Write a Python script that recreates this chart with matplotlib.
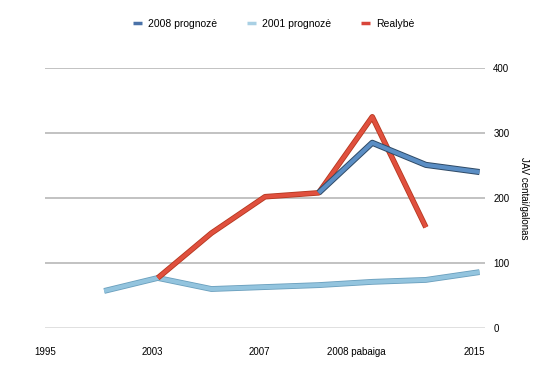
import matplotlib.pyplot as plt
import matplotlib.patheffects as pe
from matplotlib.lines import Line2D

plt.rcParams['font.family'] = ['Liberation Sans', 'DejaVu Sans']

# duomenys (taskai 0..7)
pos_2001 = [0, 1, 2, 3, 4, 5, 6, 7]
prog_2001 = [57, 77, 60, 63, 66, 71, 74, 86]

pos_real = [1, 2, 3, 4, 5, 6]
realybe = [77, 146, 202, 208, 325, 155]

pos_2008 = [4, 5, 6, 7]
prog_2008 = [208, 285, 251, 240]

x_labels = ['1995', '2003', '2007', '2008 pabaiga', '2015']
x_label_pos = [-1.1, 0.9, 2.9, 4.7, 6.9]
y_ticks = [0, 100, 200, 300, 400]

fig = plt.figure(figsize=(5.51, 3.74), dpi=100)
ax = fig.add_axes([0.082, 0.123, 0.798, 0.695])

for v in y_ticks:
    ax.axhline(v, color='#bdbdbd' if v else '#dddddd', lw=1.3, zorder=0)

ax.plot(pos_2001, prog_2001, color='#93c4de', lw=3.0, solid_capstyle='butt',
        path_effects=[pe.Stroke(linewidth=4.2, foreground='#6a9fbd'), pe.Normal()], zorder=2)
ax.plot(pos_real, realybe, color='#e0503e', lw=2.8, solid_capstyle='butt',
        path_effects=[pe.Stroke(linewidth=4.0, foreground='#b5381f'), pe.Normal()], zorder=3)
ax.plot(pos_2008, prog_2008, color='#5b8ec4', lw=3.0, solid_capstyle='butt',
        path_effects=[pe.Stroke(linewidth=4.4, foreground='#2f4a66'), pe.Normal()], zorder=4)

ax.set_xlim(-1.08, 7.1)
ax.set_ylim(0, 400)
for s in ax.spines.values():
    s.set_visible(False)

ax.yaxis.tick_right()
ax.set_yticks(y_ticks)
ax.tick_params(axis='y', length=0, labelsize=7, pad=6)
ax.yaxis.set_label_position('right')
ax.set_ylabel('JAV centai/galonas', rotation=270, fontsize=7, labelpad=14)

ax.set_xticks(x_label_pos)
ax.set_xticklabels(x_labels)
ax.tick_params(axis='x', length=0, labelsize=7, pad=14)

handles = [Line2D([], [], color='#4a72a8', lw=2.5, solid_capstyle='butt'),
           Line2D([], [], color='#a9d0e4', lw=2.5, solid_capstyle='butt'),
           Line2D([], [], color='#d8453a', lw=2.5, solid_capstyle='butt')]
labels = ['2008 prognozė', '2001 prognozė', 'Realybė']
fig.legend(handles, labels, loc='upper center', bbox_to_anchor=(0.497, 0.975), ncol=3,
           frameon=False, fontsize=7.5, handlelength=0.8, columnspacing=2.9,
           handletextpad=0.6)

fig.savefig('out.png', dpi=100)
